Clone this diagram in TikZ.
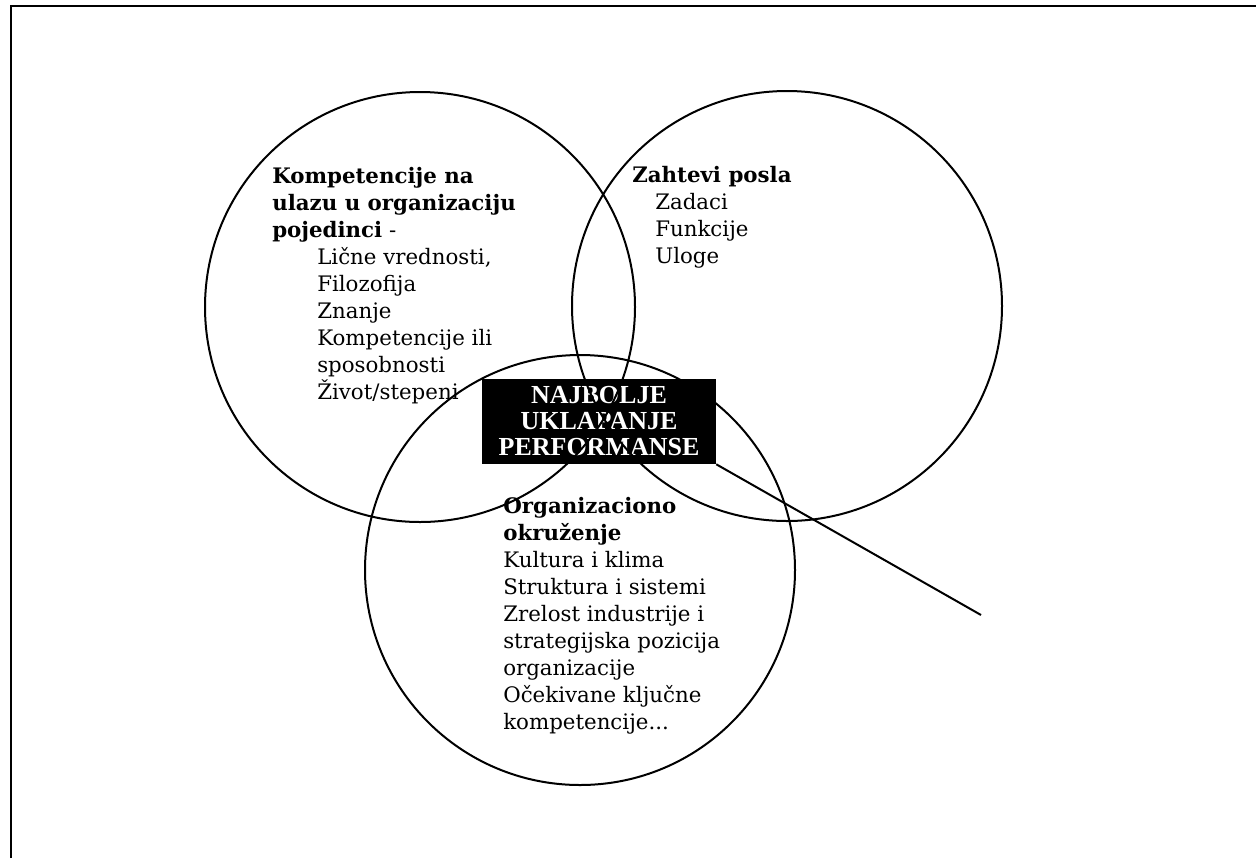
\documentclass[tikz,border=0pt]{standalone}
\usepackage{fontspec}
\setmainfont{DejaVu Serif}
\newfontfamily\boxfont{Liberation Serif}
\begin{document}
\begin{tikzpicture}[x=0.75pt,y=-0.75pt,
  venn/.style={circle, draw=black, line width=1.5pt, minimum size=322.5pt, inner sep=0pt},
  frameline/.style={line width=2.2pt},
  blocktext/.style={anchor=base west, inner sep=0pt, font=\fontsize{16pt}{20.25pt}\selectfont},
  fitbox/.style={fill=black, text=white, minimum width=175.5pt, minimum height=63.75pt, inner sep=0pt,
    align=center, font=\boxfont\bfseries\fontsize{19.5pt}{19.5pt}\selectfont}]
\useasboundingbox (0,0) rectangle (1256,858);
% frame
\coordinate (fbl) at (11,858);
\coordinate (ftl) at (11,6);
\coordinate (ftr) at (1256,6);
\draw[frameline] (fbl) -- (ftl) -- (ftr);
% central box
\node[fitbox] (box) at (599,421.5) {NAJBOLJE\\UKLAPANJE\\PERFORMANSE};
% circles
\node[venn] (c1) at (420,307) {};
\node[venn] (c2) at (787,306) {};
\node[venn] (c3) at (580,570) {};
% pointer line
\coordinate (lend) at (981,615);
\draw[line width=1.5pt] (box.south east) -- (lend);
% texts
\node[blocktext] (t1) at (272,183) {\begin{tabular}[t]{@{}l@{}}
\textbf{Kompetencije na}\\
\textbf{ulazu u organizaciju}\\
\textbf{pojedinci} -\\
\hspace*{33.75pt}Lične vrednosti,\\
\hspace*{33.75pt}Filozofija\\
\hspace*{33.75pt}Znanje\\
\hspace*{33.75pt}Kompetencije ili\\
\hspace*{33.75pt}sposobnosti\\
\hspace*{33.75pt}Život/stepeni
\end{tabular}};
\node[blocktext] (t2) at (632,182) {\begin{tabular}[t]{@{}l@{}}
\textbf{Zahtevi posla}\\
\hspace*{17.25pt}Zadaci\\
\hspace*{17.25pt}Funkcije\\
\hspace*{17.25pt}Uloge
\end{tabular}};
\node[blocktext] (t3) at (503,513) {\begin{tabular}[t]{@{}l@{}}
\textbf{Organizaciono}\\
\textbf{okruženje}\\
Kultura i klima\\
Struktura i sistemi\\
Zrelost industrije i\\
strategijska pozicija\\
organizacije\\
Očekivane ključne\\
kompetencije...
\end{tabular}};
\end{tikzpicture}
\end{document}
